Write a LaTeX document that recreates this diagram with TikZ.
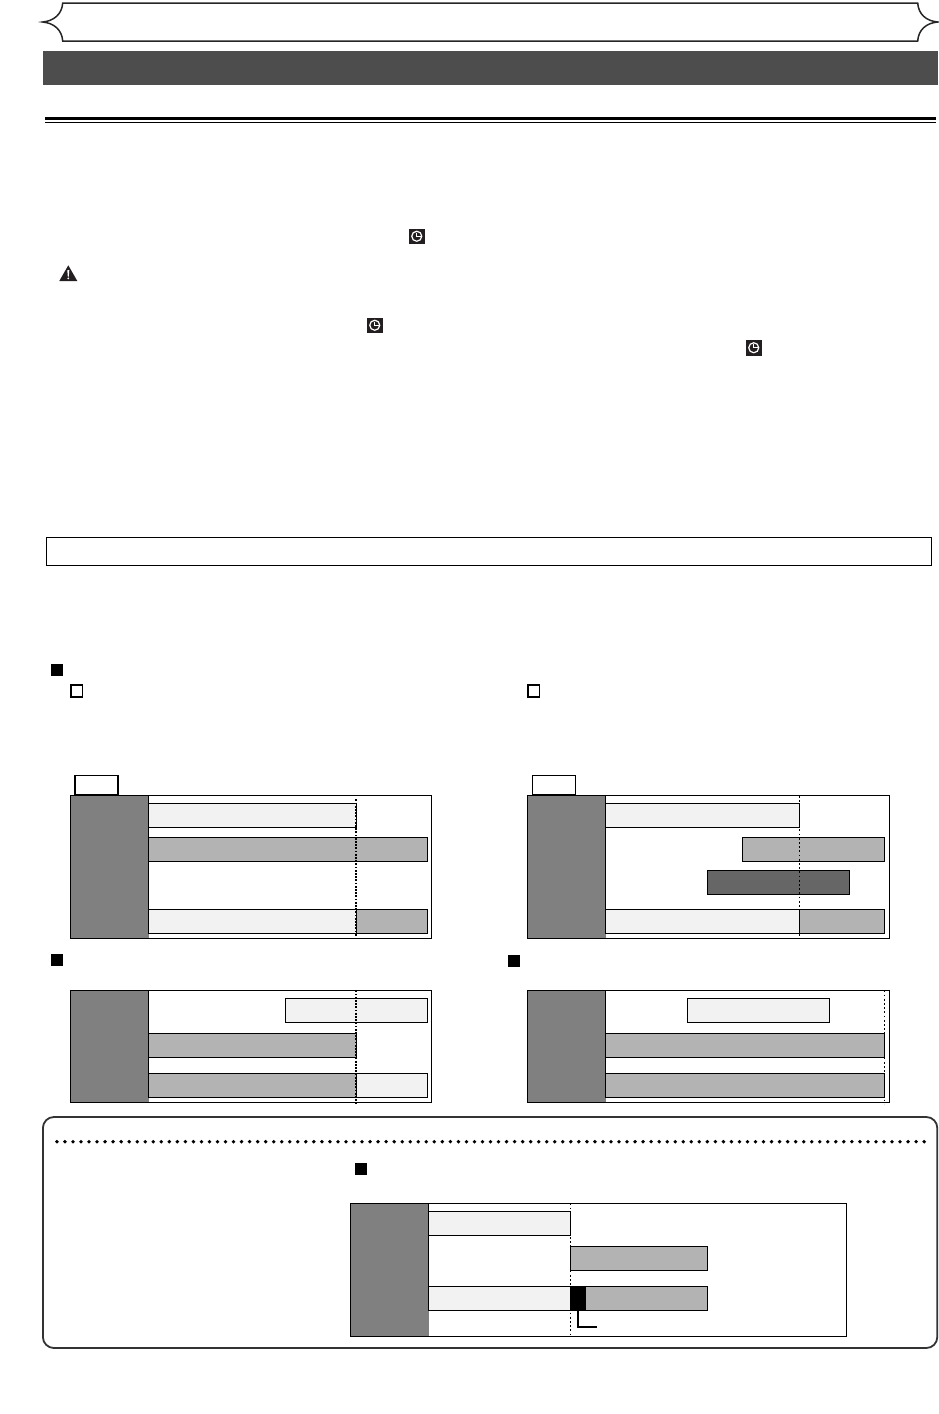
\documentclass[tikz,border=0pt]{standalone}
\usepackage{tikz}

\definecolor{panelgray}{HTML}{808080}
\definecolor{barlight}{HTML}{F2F2F2}
\definecolor{barmid}{HTML}{B3B3B3}
\definecolor{bardark}{HTML}{666666}
\definecolor{bandgray}{HTML}{4D4D4D}
\definecolor{iconblack}{HTML}{231F20}

\begin{document}
\begin{tikzpicture}[x = 1pt, y = -1pt, line width = 1pt,
    lightbar/.style = {draw=black, fill=barlight},
    midbar/.style = {draw=black, fill=barmid},
    darkbar/.style = {draw=black, fill=bardark},
    framebox/.style = {draw=black},
    panel/.style = {fill=panelgray},
    timeline/.style = {line width=1.6pt, dash pattern=on 1.8pt off 1.4pt},
    thinline/.style = {line width=1pt, dash pattern=on 1.8pt off 2.4pt},
    bullet/.style = {fill=black},
    checkbox/.style = {draw=black, line width=1.6pt, fill=white}]
        \useasboundingbox (0,0) rectangle (939,1414);
        % header
        \draw[line width=1.5pt, fill=white, draw=black!85] (62.7,3) .. controls (62,14) and (54,21) .. (42.7,22) .. controls (54,23) and (62,30) .. (62.7,41) -- (917.7,41) .. controls (918.4,30) and (926,23) .. (937.7,22) .. controls (926,21) and (918.4,14) .. (917.7,3) -- cycle;
        \fill[bandgray] (43,51) rectangle (937.7,84.7);
        \fill[black] (45,117) rectangle (936,120);
        \fill[black] (45,122) rectangle (936,123);
        % icons
        \foreach \x/\y in {409/228.5, 367/317.5, 746/340} {
          \fill[iconblack] (\x,\y) rectangle +(15.5,15.5);
          \draw[white, line width=1.2pt] (\x+7.75,\y+7.75) circle (5);
          \draw[white, line width=1.1pt] (\x+7.75,\y+4.2) -- (\x+7.75,\y+7.75) -- (\x+11.6,\y+7.75);
        }
        \fill[iconblack] (68.3,265.3) -- (77.3,281) -- (59.3,281) -- cycle;
        \fill[white] (67.3,270) -- (69.3,270) -- (68.8,276.5) -- (67.8,276.5) -- cycle;
        \fill[white] (68.3,278.4) circle (1);
        \draw[line width=.9pt] (46.5,537.5) rectangle (931,565.3);
        % bullets
        \foreach \x/\y in {51/664, 51/954, 508/955, 355/1163.3} {
          \fill[bullet] (\x,\y) rectangle +(12,12);
        }
        \draw[checkbox] (70.8,684.8) rectangle (82.5,697);
        \draw[checkbox] (527.8,684.8) rectangle (539.5,697);
        \draw[line width=1.5pt] (75,775.5) rectangle (118,795);
        \draw[line width=1.3pt] (532.6,775.5) rectangle (575.3,795);
        % panels
        \foreach \x/\y/\w/\h in {70.5/795.3/361.2/143.4, 527.5/795.3/361.8/143.4, 70.5/990.3/361.2/112, 527.5/990.3/361.8/112, 350.5/1203.3/496.2/133.4} {
          \fill[panel] (\x,\y) rectangle +(78,\h);
          \draw[framebox] (\x,\y) rectangle +(\w,\h);
        }
        % top left
        \draw (148.3,795.3) -- (148.3,933.3);
        \draw[lightbar] (148.3,803.3) rectangle (356.3,827.3);
        \draw[midbar] (148.3,837.3) rectangle (427.7,861.3);
        \draw[lightbar] (148.3,909.3) rectangle (356.3,933.3);
        \draw[midbar] (356.3,909.3) rectangle (427.7,933.3);
        \draw[timeline] (356,799.3) -- (356,936);
        % top right
        \draw (605.3,795.3) -- (605.3,933.3);
        \draw[lightbar] (605.3,803.3) rectangle (799.3,827.3);
        \draw[midbar] (742.3,837.3) rectangle (884.7,861.3);
        \draw[darkbar] (707.3,870.3) rectangle (849.7,894.3);
        \draw[lightbar] (605.3,909.3) rectangle (799.3,933.3);
        \draw[midbar] (799.3,909.3) rectangle (884.7,933.3);
        \draw[thinline] (799.3,795.7) -- (799.3,936);
        % lower left
        \draw (148.3,990.3) -- (148.3,1097.3);
        \draw[lightbar] (285.3,998.3) rectangle (427.7,1022.7);
        \draw[midbar] (148.3,1033.3) rectangle (356.3,1057.3);
        \draw[midbar] (148.3,1073.3) rectangle (356.3,1097.3);
        \draw[lightbar] (356.3,1073.3) rectangle (427.7,1097.3);
        \draw[timeline] (356,990.3) -- (356,1103.7);
        % lower right
        \draw (605.3,990.3) -- (605.3,1097.3);
        \draw[lightbar] (687.3,998.3) rectangle (829.7,1022.7);
        \draw[midbar] (605.3,1033.3) rectangle (884.3,1057.3);
        \draw[midbar] (605.3,1073.3) rectangle (884.3,1097.3);
        \draw[thinline] (884.3,990.3) -- (884.3,1103.7);
        % note box
        \draw[line width=1.8pt, draw=black!80, rounded corners=11pt] (42.9,1117) rectangle (937.3,1348);
        \foreach \x in {0,...,108} {
          \fill (56.9+\x*8.03,1141.7) circle (1.9);
        }
        \draw (428.3,1203.3) -- (428.3,1310.7);
        \draw[lightbar] (428.3,1211.3) rectangle (570.7,1235.7);
        \draw[midbar] (570.7,1246.3) rectangle (707.7,1270.3);
        \draw[lightbar] (428.3,1286.3) rectangle (570.7,1310.7);
        \draw[midbar] (570.7,1286.3) rectangle (707.7,1310.7);
        \fill (570.7,1286.3) rectangle (586,1310.7);
        \draw[thinline] (570.7,1203.3) -- (570.7,1334);
        \draw[line width=1.7pt] (578,1310.7) -- (578,1326.7) -- (597,1326.7);
      \end{tikzpicture}
\end{document}
